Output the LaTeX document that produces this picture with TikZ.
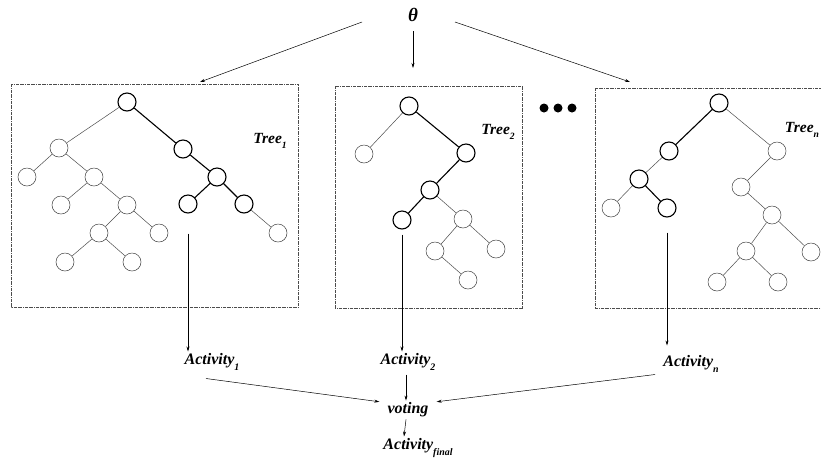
\documentclass[tikz,border=0pt]{standalone}
\usepackage{amsmath}
\usepackage{fontspec}
\setmainfont{Liberation Serif}
\usepackage{tikz}
\usetikzlibrary{arrows.meta}

\newcommand{\subt}[2]{#1\raisebox{-0.75ex}{\scalebox{0.62}{#2}}}

\begin{document}
\begin{tikzpicture}[x=1pt,y=-1pt,
  nd/.style={circle,draw=black!75,line width=0.5pt,minimum size=18pt,inner sep=0pt},
  bd/.style={draw=black,line width=1.1pt},
  thinedge/.style={draw=black!70,line width=0.5pt},
  boldedge/.style={draw=black,line width=1.1pt},
  box/.style={draw=black!70,line width=0.5pt,densely dashdotted},
  lbl/.style={font=\fontsize{16}{18}\selectfont\bfseries\itshape,inner sep=2pt},
  tlbl/.style={font=\fontsize{15.5}{17}\selectfont\bfseries\itshape,inner sep=1pt},
  arr/.style={-{Stealth[length=5pt,width=3pt]},line width=0.5pt},
  dot/.style={circle,fill=black,minimum size=9pt,inner sep=0pt}]
\useasboundingbox (0,0) rectangle (821,459);

%% theta on top
\node[font=\fontsize{19}{20}\selectfont\bfseries\itshape] (theta) at (413,15) {θ};
\coordinate (s1) at (362,22);
\coordinate (sn) at (455,22);
\coordinate (t1) at (200,82);
\coordinate (t2) at (413,68);
\coordinate (tn) at (630,82);
\draw[arr] (s1) -- (t1);
\draw[arr] ([yshift=-6pt]theta.south) -- (t2);
\draw[arr] (sn) -- (tn);

%% boxes
\draw[box] (11,84) rectangle (298,307);
\draw[box] (335,86) rectangle (522,308);
\draw[box] (595,88) rectangle (830,308);

%% tree 1
\node[nd,bd] (a0) at (127,102) {};
\node[nd] (a1) at (59,148) {};
\node[nd,bd] (a2) at (183,149) {};
\node[nd] (a3) at (27,177) {};
\node[nd] (a4) at (94,177) {};
\node[nd] (a5) at (61,205) {};
\node[nd] (a6) at (127,205) {};
\node[nd] (a7) at (99,233) {};
\node[nd] (a8) at (159,233) {};
\node[nd] (a9) at (65,262) {};
\node[nd] (a10) at (132,262) {};
\node[nd,bd] (a11) at (217,177) {};
\node[nd,bd] (a12) at (188,204) {};
\node[nd,bd] (a13) at (244,204) {};
\node[nd] (a14) at (278,233) {};
\node[tlbl] (tree1) at (270,141) {\subt{Tree}{1}};
\foreach \u/\v in {a0/a2,a2/a11,a11/a12,a11/a13}
  \draw[boldedge] (\u) -- (\v);
\foreach \u/\v in {a0/a1,a1/a3,a1/a4,a4/a5,a4/a6,a6/a7,a6/a8,a7/a9,a7/a10,a13/a14}
  \draw[thinedge] (\u) -- (\v);

%% tree 2
\node[nd,bd] (b0) at (409,106) {};
\node[nd] (b1) at (364,154) {};
\node[nd,bd] (b2) at (466,153) {};
\node[nd,bd] (b3) at (430,190) {};
\node[nd,bd] (b4) at (402,220) {};
\node[nd] (b5) at (463,219) {};
\node[nd] (b6) at (435,251) {};
\node[nd] (b7) at (496,249) {};
\node[nd] (b8) at (468,280) {};
\node[tlbl] (tree2) at (498,132) {\subt{Tree}{2}};
\foreach \u/\v in {b0/b2,b2/b3,b3/b4}
  \draw[boldedge] (\u) -- (\v);
\foreach \u/\v in {b0/b1,b3/b5,b5/b6,b5/b7,b6/b8}
  \draw[thinedge] (\u) -- (\v);

%% dots
\foreach \i/\x in {1/544,2/558,3/572}
  \node[dot] (dot\i) at (\x,108) {};

%% tree n
\node[nd,bd] (c0) at (719,103) {};
\node[nd,bd] (c1) at (669,151) {};
\node[nd] (c2) at (777,151) {};
\node[nd,bd] (c3) at (639,179) {};
\node[nd] (c4) at (611,208) {};
\node[nd,bd] (c5) at (667,208) {};
\node[nd] (c6) at (741,187) {};
\node[nd] (c7) at (772,215) {};
\node[nd] (c8) at (746,251) {};
\node[nd] (c9) at (811,252) {};
\node[nd] (c10) at (717,282) {};
\node[nd] (c11) at (778,282) {};
\node[tlbl] (treen) at (802,130) {\subt{Tree}{n}};
\foreach \u/\v in {c0/c1,c3/c5}
  \draw[boldedge] (\u) -- (\v);
\foreach \u/\v in {c0/c2,c1/c3,c3/c4,c2/c6,c6/c7,c7/c8,c7/c9,c8/c10,c8/c11}
  \draw[thinedge] (\u) -- (\v);

%% results
\node[lbl] (act1) at (212,362) {\subt{Activity}{1}};
\node[lbl] (act2) at (408,362) {\subt{Activity}{2}};
\node[lbl] (actn) at (691,364) {\subt{Activity}{n}};
\node[lbl] (vote) at (408,410) {voting};
\node[lbl] (actf) at (418,448) {\subt{Activity}{final}};

\draw[arr] ([yshift=-20pt]a12.south) -- (a12 |- act1.north);
\draw[arr] ([yshift=-5pt]b4.south) -- (b4 |- act2.north);
\draw[arr] ([yshift=-15pt]c5.south) -- ([yshift=8pt]c5 |- actn.north);
\draw[arr] ([shift={(-6pt,-6pt)}]act1.south) -- ([xshift=-6pt]vote.160);
\draw[arr] ([shift={(-2pt,-2pt)}]act2.south) -- ([xshift=-2pt]vote.north);
\draw[arr] ([shift={(-36pt,0pt)}]actn.south) -- ([xshift=6pt]vote.20);
\draw[arr] ([xshift=-2pt]vote.south) -- ([xshift=-14pt]actf.north);
\end{tikzpicture}
\end{document}
